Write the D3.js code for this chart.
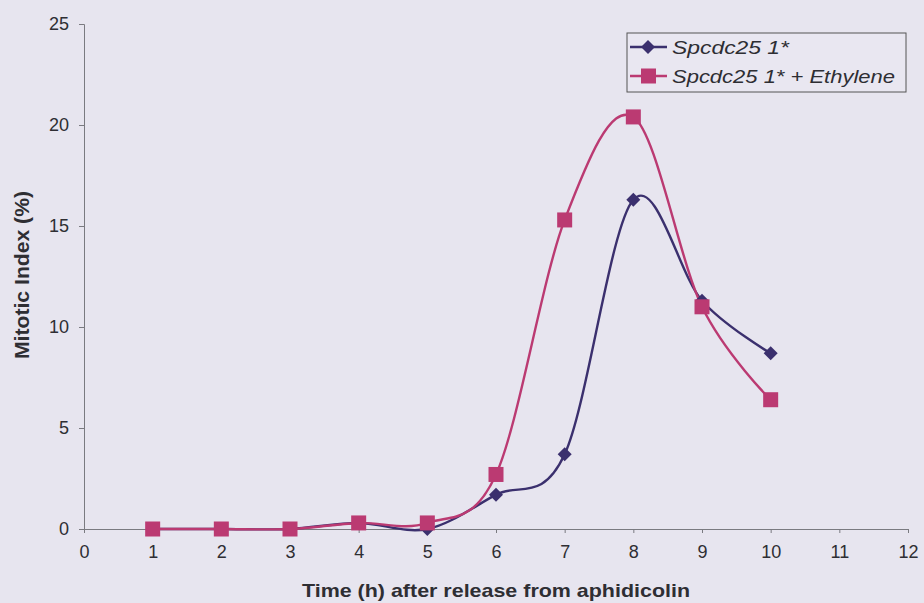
<!DOCTYPE html>
<html><head><meta charset="utf-8">
<script src="https://cdn.jsdelivr.net/npm/d3@7"></script>
<style>body{margin:0;background:#e7e5ef;}svg{display:block;}</style>
</head><body>
<svg id="c" width="924" height="603"></svg>
<script>
const hours = [1,2,3,4,5,6,7,8,9,10];
const control = [0,0,0,0.3,0,1.7,3.7,16.3,11.3,8.7];
const ethylene = [0,0,0,0.3,0.3,2.7,15.3,20.4,11.0,6.4];
const xTicks = [0,1,2,3,4,5,6,7,8,9,10,11,12];
const yTicks = [0,5,10,15,20,25];
const seriesNames = ["Spcdc25 1*","Spcdc25 1* + Ethylene"];

const svg = d3.select("#c");
svg.append("rect").attr("width",924).attr("height",603).attr("fill","#e7e5ef");
const x = d3.scaleLinear().domain([0,12]).range([84,908]);
const y = d3.scaleLinear().domain([0,25]).range([529,24]);
const axisCol = "#7a7a80";
const font = "Liberation Sans, Arial, sans-serif";
const txtCol = "#2e2e33";

// y axis
const ya = svg.append("g").attr("transform","translate(84,0)")
  .call(d3.axisLeft(y).tickValues(yTicks).tickSize(5).tickPadding(10));
ya.select(".domain").attr("stroke",axisCol);
ya.selectAll(".tick line").attr("stroke",axisCol);
ya.selectAll(".tick text").attr("font-family",font).attr("font-size",18).attr("fill",txtCol);

// x axis
const xa = svg.append("g").attr("transform","translate(0,529)")
  .call(d3.axisBottom(x).tickValues(xTicks).tickSize(4).tickPadding(12));
xa.select(".domain").attr("stroke",axisCol);
xa.selectAll(".tick line").attr("stroke",axisCol);
xa.selectAll(".tick text").attr("font-family",font).attr("font-size",18).attr("fill",txtCol);

svg.append("text").attr("x",496).attr("y",597).attr("text-anchor","middle")
  .attr("font-family",font).attr("font-weight","bold").attr("font-size",19).attr("fill",txtCol)
  .attr("textLength",388).attr("lengthAdjust","spacingAndGlyphs")
  .text("Time (h) after release from aphidicolin");
svg.append("text").attr("transform","translate(29,275) rotate(-90)").attr("text-anchor","middle")
  .attr("font-family",font).attr("font-weight","bold").attr("font-size",20).attr("fill",txtCol)
  .attr("textLength",168).attr("lengthAdjust","spacingAndGlyphs")
  .text("Mitotic Index (%)");

const navy = "#3b306e", mag = "#bb3a72";
const line = d3.line().x(d=>x(d[0])).y(d=>y(d[1])).curve(d3.curveCardinal.tension(0));

const s1 = hours.map((h,i)=>[h,control[i]]);
const s2 = hours.map((h,i)=>[h,ethylene[i]]);

svg.append("path").datum(s1).attr("d",line).attr("fill","none").attr("stroke",navy).attr("stroke-width",2.4);
svg.append("path").datum(s2).attr("d",line).attr("fill","none").attr("stroke",mag).attr("stroke-width",2.4);

const dm = "M0,-7L7,0L0,7L-7,0Z";
svg.selectAll(".d").data(s1).enter().append("path").attr("d",dm)
  .attr("transform",d=>`translate(${x(d[0])},${y(d[1])})`).attr("fill",navy);
svg.selectAll(".s").data(s2).enter().append("rect")
  .attr("x",d=>x(d[0])-7.5).attr("y",d=>y(d[1])-7.5).attr("width",15).attr("height",15).attr("fill",mag);

// legend
const lg = svg.append("g");
lg.append("rect").attr("x",627).attr("y",33).attr("width",279).attr("height",59)
  .attr("fill","#e9e7f1").attr("stroke","#555").attr("stroke-width",1);
const lens = [117,223];
[navy,mag].forEach((c,i)=>{
  const yy = 47 + i*29;
  lg.append("line").attr("x1",630).attr("x2",667).attr("y1",yy).attr("y2",yy).attr("stroke",c).attr("stroke-width",2.4);
  if(i===0) lg.append("path").attr("d",dm).attr("transform",`translate(648,${yy})`).attr("fill",c);
  else lg.append("rect").attr("x",641).attr("y",yy-7.5).attr("width",15).attr("height",15).attr("fill",c);
  lg.append("text").attr("x",672).attr("y",yy+7).attr("font-family",font).attr("font-style","italic")
    .attr("font-size",19).attr("fill",txtCol)
    .attr("textLength",lens[i]).attr("lengthAdjust","spacingAndGlyphs").text(seriesNames[i]);
});
</script>
</body></html>
